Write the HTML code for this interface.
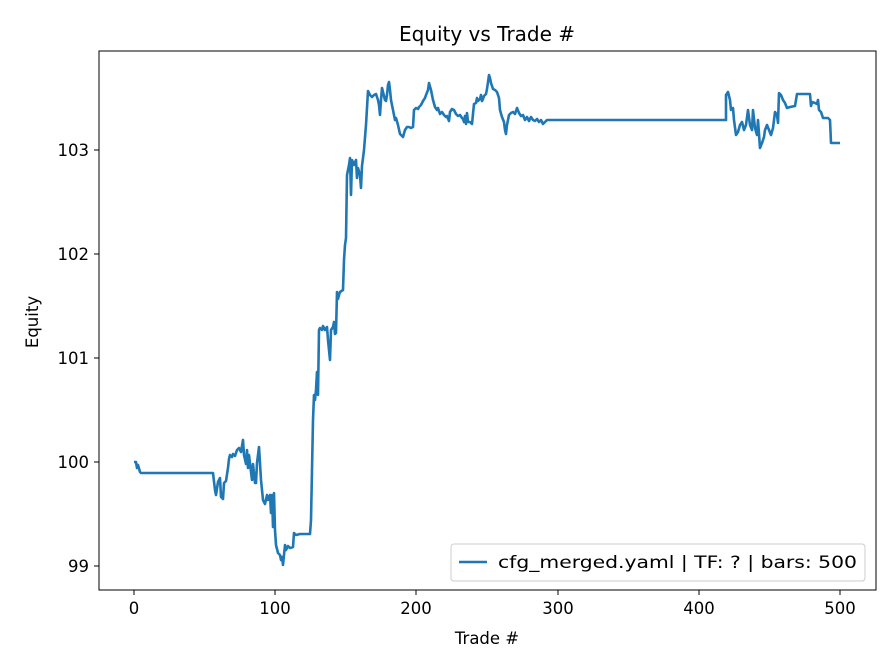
<!DOCTYPE html><html><head><style>body{margin:0;background:#fff}svg{display:block}text{font-family:"DejaVu Sans","Liberation Sans",sans-serif;fill:#000}</style></head><body>
<svg width="896" height="672" viewBox="0 0 896 672">
<rect x="99" y="51" width="777" height="539" fill="none" stroke="#000" stroke-width="1"/>
<g stroke="#000" stroke-width="1">
<line x1="134" y1="590" x2="134" y2="595"/><line x1="275" y1="590" x2="275" y2="595"/><line x1="416" y1="590" x2="416" y2="595"/><line x1="558" y1="590" x2="558" y2="595"/><line x1="699" y1="590" x2="699" y2="595"/><line x1="840" y1="590" x2="840" y2="595"/>
<line x1="94" y1="566" x2="99" y2="566"/><line x1="94" y1="462" x2="99" y2="462"/><line x1="94" y1="358" x2="99" y2="358"/><line x1="94" y1="254" x2="99" y2="254"/><line x1="94" y1="150" x2="99" y2="150"/>
</g>
<g font-size="16.5" text-anchor="middle">
<text x="134" y="614">0</text><text x="275" y="614">100</text><text x="416" y="614">200</text><text x="558" y="614">300</text><text x="699" y="614">400</text><text x="840" y="614">500</text>
</g>
<g font-size="16.5" text-anchor="end">
<text x="89" y="572">99</text><text x="89" y="468">100</text><text x="89" y="364">101</text><text x="89" y="260">102</text><text x="89" y="156">103</text>
</g>
<text x="487" y="644" font-size="16.5" text-anchor="middle">Trade #</text>
<text x="38" y="322" font-size="16.5" text-anchor="middle" transform="rotate(-90 38 322)">Equity</text>
<text x="487" y="41" font-size="20" text-anchor="middle">Equity vs Trade #</text>
<polyline fill="none" stroke="#1f77b4" stroke-width="2.6" stroke-linejoin="round" points="134,462 136,462 137,468 138,465 140,472 141,473 213,473 215,490 216,495 218,482 220,478 221,497 223,499 224,483 226,481 228,468 229,459 230,455 232,457 233,454 235,456 237,450 239,448 241,452 243,440 244,455 246,464 247,450 248,468 249,455 251,472 252,480 253,464 255,483 256,483 257,463 259,447 261,480 263,500 265,504 267,495 268,500 270,495 271,513 272,495 273,527 274,493 275,530 276,545 278,553 280,555 281,560 282,557 283,565 285,545 286,550 288,546 290,548 293,547 294,533 296,535 300,534 310,534 311,520 312,470 313,420 314,395 315,400 316,390 317,372 318,395 319,330 320,328 322,330 323,326 325,330 327,327 328,340 330,360 331,330 333,327 334,322 335,334 336,333 337,292 338,299 339,295 340,292 343,290 344,260 345,245 346,238 347,175 349,165 350,158 351,195 352,160 354,165 356,160 357,178 358,168 360,175 361,188 362,166 364,150 366,125 368,91 370,95 372,97 374,95 376,94 378,100 379,105 380,115 381,100 382,88 385,100 386,101 387,95 388,85 389,82 390,90 391,100 393,110 395,120 396,118 398,125 400,134 402,136 403,137 405,130 407,127 409,127 411,128 413,127 414,110 416,108 418,109 419,107 421,105 423,101 425,98 426,95 428,90 429,83 431,90 433,100 435,107 437,110 438,108 440,114 442,112 444,115 446,117 447,116 449,121 450,112 452,109 454,110 456,114 458,116 460,115 462,118 463,119 464,122 465,116 466,124 467,113 468,122 470,122 472,124 474,104 476,103 477,98 478,101 480,99 481,95 482,101 483,99 484,96 486,94 487,89 488,82 489,75 490,78 491,83 493,89 495,90 497,92 499,98 500,110 502,117 504,122 505,130 506,134 507,125 509,115 511,113 513,112 515,114 517,108 519,113 521,116 523,115 525,120 527,117 529,121 531,117 533,120 535,121 537,119 539,122 541,120 543,124 545,122 547,120 549,120 558,120 726,120 726,95 728,92 730,100 731,110 733,108 734,120 736,135 738,132 740,125 742,122 744,130 746,125 748,110 750,125 752,130 753,110 755,128 757,135 758,120 760,148 762,143 764,137 765,130 767,125 769,130 771,135 773,128 775,112 777,115 778,123 779,93 781,95 783,100 785,103 787,108 790,107 795,106 797,94 810,94 811,106 812,102 815,103 817,104 818,100 819,110 821,112 823,118 828,118 830,120 831,143 840,143"/>
<rect x="451" y="544" width="414" height="37" rx="3" fill="#fff" stroke="#ccc"/>
<line x1="459" y1="562" x2="487" y2="562" stroke="#1f77b4" stroke-width="2.6"/>
<text x="498" y="568" font-size="16.5" textLength="359" lengthAdjust="spacingAndGlyphs">cfg_merged.yaml | TF: ? | bars: 500</text>
</svg></body></html>
